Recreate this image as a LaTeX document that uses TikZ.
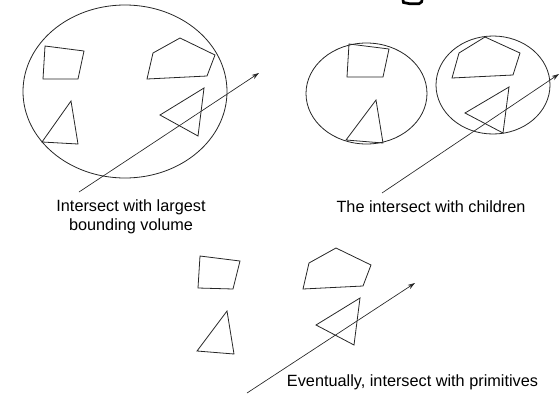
\documentclass[tikz,border=0pt]{standalone}
\usepackage{fontspec}
\setmainfont{Liberation Sans}
\usetikzlibrary{arrows.meta}
\begin{document}
\begin{tikzpicture}[x=0.75pt,y=-0.75pt,
  shp/.style={draw=black!85,line width=0.6pt,line join=miter},
  ray/.style={draw=black!85,line width=0.5pt,-{Stealth[length=5.5pt,width=3.5pt]}},
  lbl/.style={font=\fontsize{12.2}{14.25}\selectfont,align=center,inner sep=0pt}]
\useasboundingbox (0,0) rectangle (560,393);
% cut-off title glyph fragment
\draw[line width=2pt] (403,0) -- (403.5,2.5) -- (410,3.8) -- (419,3.8) -- (421.5,2) -- (422,0);
% group 1
\draw[shp] (125,91.5) ellipse [x radius=102,y radius=86.5];
\draw[shp] (45,46) -- (84,51) -- (78,79) -- (43,79) -- cycle;
\draw[shp] (180,38) -- (215,55) -- (207,76) -- (147,79) -- (153,53) -- cycle;
\draw[shp] (71,101) -- (78,144) -- (42,142) -- cycle;
\draw[shp] (204,88) -- (198,136) -- (160,115) -- cycle;
\coordinate (a1) at (79,192);
\coordinate (b1) at (259,73);
\draw[ray] (a1) -- (b1);
% group 2
\draw[shp] (366.5,93.5) ellipse [x radius=60.5,y radius=50.5];
\draw[shp] (349,44) -- (389,49) -- (383,77) -- (347,77) -- cycle;
\draw[shp] (376,100) -- (383,143) -- (346,140) -- cycle;
\draw[shp] (493,85) ellipse [x radius=57,y radius=49];
\draw[shp] (485,37) -- (520,53) -- (513,75) -- (452,78) -- (459,53) -- cycle;
\draw[shp] (509,87) -- (503,133) -- (465,113) -- cycle;
\coordinate (a2) at (382,193);
\coordinate (b2) at (559,74);
\draw[ray] (a2) -- (b2);
% group 3
\draw[shp] (200,256) -- (240,261) -- (233,289) -- (198,288) -- cycle;
\draw[shp] (336,248) -- (371,265) -- (363,286) -- (303,289) -- (309,263) -- cycle;
\draw[shp] (227,311) -- (234,354) -- (197,351) -- cycle;
\draw[shp] (360,298) -- (354,345) -- (316,325) -- cycle;
\coordinate (a3) at (247,393);
\coordinate (b3) at (415,283);
\draw[ray] (a3) -- (b3);
% labels
\node[lbl] (t1) at (131,216.5) {Intersect with largest\\bounding volume};
\node[lbl] (t2) at (431,207) {The intersect with children};
\node[lbl] (t3) at (412.5,382) {Eventually, intersect with primitives};
\end{tikzpicture}
\end{document}
